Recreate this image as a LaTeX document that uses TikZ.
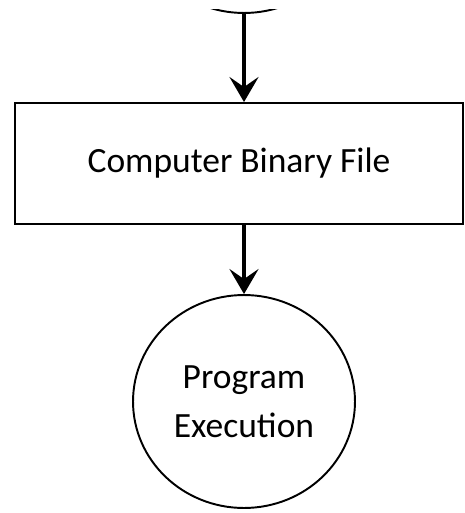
\documentclass[tikz,border=0pt]{standalone}
\usepackage{fontspec}
\setmainfont{Carlito}
\usetikzlibrary{arrows.meta,shapes.geometric}
\begin{document}
\begin{tikzpicture}[
    x=0.02cm, y=0.02cm,
    box/.style={rectangle, draw, line width=1.1pt, minimum width=8.96cm, minimum height=2.42cm, text centered, font=\fontsize{20.2}{24}\selectfont, text=black},
    entity/.style={ellipse, draw, line width=1.1pt, minimum width=4.44cm, minimum height=4.26cm, align=center, font=\fontsize{20.2}{27.8}\selectfont, text=black},
    arrow/.style={-{Stealth[length=0.5cm, width=0.58cm, inset=0.2cm]}, line width=2.8pt}
]
\useasboundingbox (0,0) rectangle (465,-513);

% previous step, cut off by the top edge
\begin{scope}
\clip (0,-10) rectangle (465,-513);
\node[entity] (source) at (244,93.5) {};
\end{scope}

% file and execution
\node[box] (binary) at (239,-163.5) {\raisebox{-0.1cm}{Computer Binary File}};
\node[entity] (execution) at (244,-401.5) {Program\\Execution};

% Arrows
\draw[arrow] (source.south) -- (source.south |- binary.north);
\draw[arrow] (binary.south -| execution.north) -- (execution.north);

\end{tikzpicture}
\end{document}
